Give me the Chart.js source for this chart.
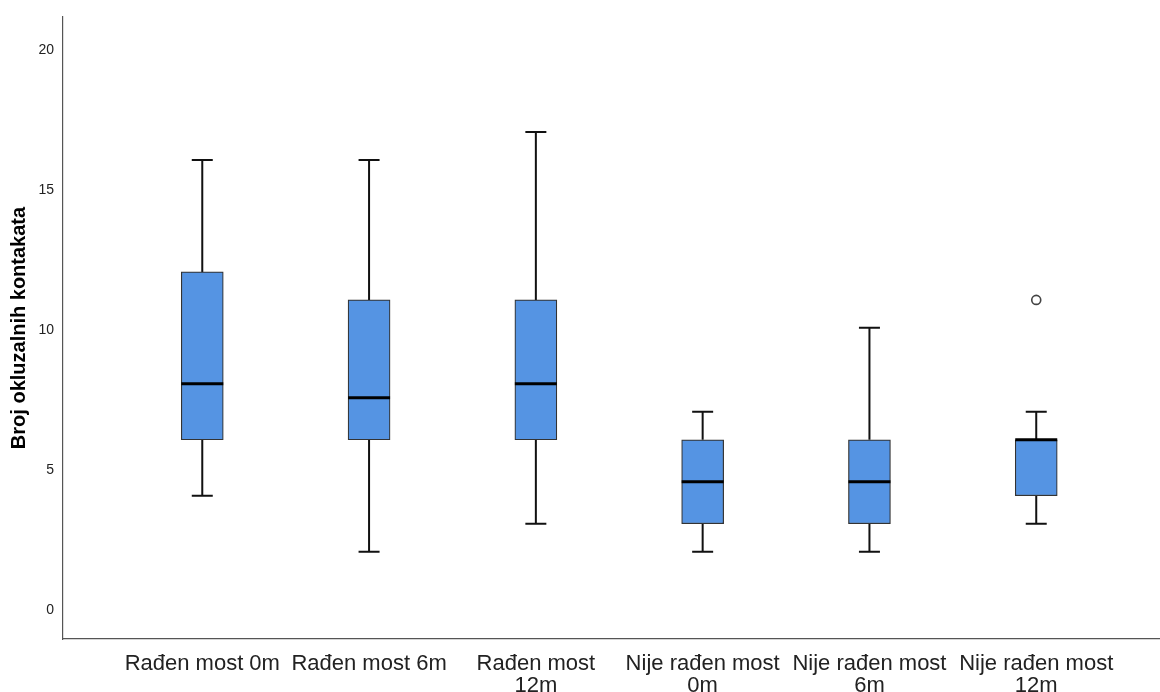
<!DOCTYPE html>
<html>
<head>
<meta charset="utf-8">
<script src="https://cdn.jsdelivr.net/npm/chart.js@4/dist/chart.umd.min.js"></script>
<style>
  html, body { margin: 0; padding: 0; background: #ffffff; overflow: hidden; }
  #wrap { width: 1160px; height: 692px; position: relative; }
  canvas { display: block; }
</style>
</head>
<body>
<div id="wrap"><canvas id="c" width="1160" height="692"></canvas></div>
<script>
// Group labels (multi-line where the label wraps)
const categories = [
  ['Rađen most 0m'],
  ['Rađen most 6m'],
  ['Rađen most', '12m'],
  ['Nije rađen most', '0m'],
  ['Nije rađen most', '6m'],
  ['Nije rađen most', '12m']
];

// Five-number summaries per group
const whiskerLow  = [4, 2, 3, 2, 2, 3];
const quartile1   = [6, 6, 6, 3, 3, 4];
const medians     = [8, 7.5, 8, 4.5, 4.5, 6];
const quartile3   = [12, 11, 11, 6, 6, 6];
const whiskerHigh = [16, 16, 17, 7, 10, 7];

// Outlying observations: group index and value
const outlierGroup = [5];
const outlierValue = [11];

const yTicks = [0, 5, 10, 15, 20];
const yTitle = 'Broj okluzalnih kontakata';

const boxData = categories.map((_, i) => ({ x: i, y: [quartile1[i], quartile3[i]] }));
const outlierData = outlierGroup.map((g, k) => ({ x: g, y: outlierValue[k] }));

const BOX_W = 42;
const CAP_W = 21;

// Draws whiskers + caps before the boxes, medians after them
const boxplotParts = {
  id: 'boxplotParts',
  beforeDatasetsDraw(chart) {
    const { ctx, scales: { x, y } } = chart;
    ctx.save();
    ctx.strokeStyle = '#111111';
    ctx.lineWidth = 2;
    categories.forEach((_, i) => {
      const cx = x.getPixelForValue(i);
      const segs = [[whiskerLow[i], quartile1[i]], [quartile3[i], whiskerHigh[i]]];
      ctx.beginPath();
      segs.forEach(([a, b]) => {
        ctx.moveTo(cx, y.getPixelForValue(a));
        ctx.lineTo(cx, y.getPixelForValue(b));
      });
      [whiskerLow[i], whiskerHigh[i]].forEach(v => {
        const py = y.getPixelForValue(v);
        ctx.moveTo(cx - CAP_W / 2, py);
        ctx.lineTo(cx + CAP_W / 2, py);
      });
      ctx.stroke();
    });
    ctx.restore();
  },
  afterDatasetsDraw(chart) {
    const { ctx, scales: { x, y } } = chart;
    ctx.save();
    ctx.strokeStyle = '#000000';
    ctx.lineWidth = 3;
    categories.forEach((_, i) => {
      const cx = x.getPixelForValue(i);
      const py = y.getPixelForValue(medians[i]);
      ctx.beginPath();
      ctx.moveTo(cx - BOX_W / 2, py);
      ctx.lineTo(cx + BOX_W / 2, py);
      ctx.stroke();
    });
    ctx.restore();
  }
};

new Chart(document.getElementById('c'), {
  type: 'bar',
  data: {
    datasets: [
      {
        type: 'bar',
        data: boxData,
        backgroundColor: '#5594e3',
        borderColor: '#333333',
        borderWidth: 1.2,
        borderSkipped: false,
        barThickness: BOX_W,
        order: 2
      },
      {
        type: 'line',
        data: outlierData,
        showLine: false,
        pointStyle: 'circle',
        pointRadius: 4.5,
        pointBorderWidth: 1.6,
        pointBorderColor: '#444444',
        pointBackgroundColor: '#ffffff',
        order: 1
      }
    ]
  },
  options: {
    responsive: false,
    animation: false,
    layout: { autoPadding: false, padding: { top: 17, right: 0, bottom: 0, left: 0 } },
    plugins: {
      legend: { display: false },
      tooltip: { enabled: false }
    },
    scales: {
      x: {
        type: 'linear',
        offset: false,
        min: -0.835,
        max: 5.742,
        grid: { display: false, drawTicks: false, offset: false },
        border: { display: true, color: '#555555', width: 1.2 },
        afterBuildTicks(scale) {
          scale.ticks = categories.map((_, i) => ({ value: i }));
        },
        afterFit(scale) {
          scale.height = 53;
          scale.paddingLeft = 0;
          scale.paddingRight = 0;
        },
        ticks: {
          autoSkip: false,
          maxRotation: 0,
          padding: 14,
          color: '#222222',
          font: { family: 'Liberation Sans, Arial, sans-serif', size: 22, lineHeight: 1.0 },
          callback: (v) => categories[v]
        }
      },
      y: {
        type: 'linear',
        min: -1.12,
        max: 21.11,
        grid: { display: false, drawTicks: false },
        border: { display: true, color: '#555555', width: 1.2 },
        afterBuildTicks(scale) {
          scale.ticks = yTicks.map(v => ({ value: v }));
        },
        afterFit(scale) {
          scale.width = 63;
          scale.paddingTop = 0;
          scale.paddingBottom = 0;
        },
        ticks: {
          padding: 9,
          labelOffset: 2,
          color: '#222222',
          font: { family: 'Liberation Sans, Arial, sans-serif', size: 14 }
        },
        title: {
          display: true,
          text: yTitle,
          color: '#000000',
          padding: { top: 7, bottom: 0 },
          font: { family: 'Liberation Sans, Arial, sans-serif', size: 20, weight: 'bold', lineHeight: 1.2 }
        }
      }
    }
  },
  plugins: [boxplotParts]
});
</script>
</body>
</html>
